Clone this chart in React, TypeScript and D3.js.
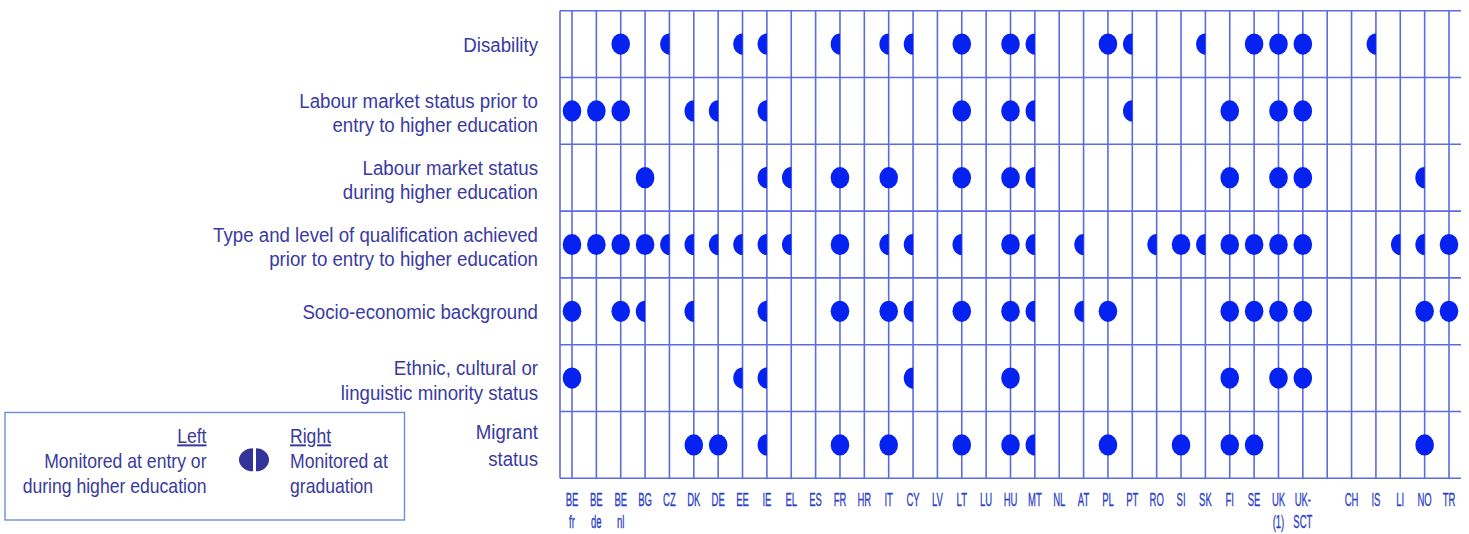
import React from "react";
import * as d3 from "d3";

// ---- data ----
const countries = [
  "BE-fr", "BE-de", "BE-nl", "BG", "CZ", "DK", "DE", "EE", "IE", "EL", "ES", "FR", "HR", "IT", "CY", "LV",
  "LT", "LU", "HU", "MT", "NL", "AT", "PL", "PT", "RO", "SI", "SK", "FI", "SE", "UK", "UK-SCT", "gap",
  "CH", "IS", "LI", "NO", "TR",
];
const countryLabels: string[][] = [
  ["BE", "fr"], ["BE", "de"], ["BE", "nl"], ["BG"], ["CZ"], ["DK"], ["DE"], ["EE"], ["IE"], ["EL"], ["ES"],
  ["FR"], ["HR"], ["IT"], ["CY"], ["LV"], ["LT"], ["LU"], ["HU"], ["MT"], ["NL"], ["AT"], ["PL"], ["PT"],
  ["RO"], ["SI"], ["SK"], ["FI"], ["SE"], ["UK", "(1)"], ["UK-", "SCT"], [""], ["CH"], ["IS"], ["LI"],
  ["NO"], ["TR"],
];
const indicators = [
  "Disability",
  "Labour market status prior to\nentry to higher education",
  "Labour market status\nduring higher education",
  "Type and level of qualification achieved\nprior to entry to higher education",
  "Socio-economic background",
  "Ethnic, cultural or\nlinguistic minority status",
  "Migrant\nstatus",
];

// F = monitored at entry/during and at graduation (full), L = at entry or during only (left half)
const disability = [
  ["BE-nl", "F"], ["CZ", "L"], ["EE", "L"], ["IE", "L"], ["FR", "L"], ["IT", "L"], ["CY", "L"], ["LT", "F"],
  ["HU", "F"], ["MT", "L"], ["PL", "F"], ["PT", "L"], ["SK", "L"], ["SE", "F"], ["UK", "F"], ["UK-SCT", "F"],
  ["IS", "L"],
];
const labourPrior = [
  ["BE-fr", "F"], ["BE-de", "F"], ["BE-nl", "F"], ["DK", "L"], ["DE", "L"], ["IE", "L"], ["LT", "F"],
  ["HU", "F"], ["MT", "L"], ["PT", "L"], ["FI", "F"], ["UK", "F"], ["UK-SCT", "F"],
];
const labourDuring = [
  ["BG", "F"], ["IE", "L"], ["EL", "L"], ["FR", "F"], ["IT", "F"], ["LT", "F"], ["HU", "F"], ["MT", "L"],
  ["FI", "F"], ["UK", "F"], ["UK-SCT", "F"], ["NO", "L"],
];
const qualification = [
  ["BE-fr", "F"], ["BE-de", "F"], ["BE-nl", "F"], ["BG", "F"], ["CZ", "L"], ["DK", "L"], ["DE", "L"],
  ["EE", "L"], ["IE", "L"], ["EL", "L"], ["FR", "F"], ["IT", "L"], ["CY", "L"], ["LT", "L"], ["HU", "F"],
  ["MT", "L"], ["AT", "L"], ["RO", "L"], ["SI", "F"], ["SK", "L"], ["FI", "F"], ["SE", "F"], ["UK", "F"],
  ["UK-SCT", "F"], ["LI", "L"], ["NO", "L"], ["TR", "F"],
];
const socioEconomic = [
  ["BE-fr", "F"], ["BE-nl", "F"], ["BG", "L"], ["DK", "L"], ["IE", "L"], ["FR", "F"], ["IT", "F"], ["CY", "L"],
  ["LT", "F"], ["HU", "F"], ["MT", "L"], ["AT", "L"], ["PL", "F"], ["FI", "F"], ["SE", "F"], ["UK", "F"],
  ["UK-SCT", "F"], ["NO", "F"], ["TR", "F"],
];
const minority = [
  ["BE-fr", "F"], ["EE", "L"], ["IE", "L"], ["CY", "L"], ["HU", "F"], ["FI", "F"], ["UK", "F"], ["UK-SCT", "F"],
];
const migrant = [
  ["DK", "F"], ["DE", "F"], ["IE", "L"], ["FR", "F"], ["IT", "F"], ["LT", "F"], ["HU", "F"], ["MT", "L"],
  ["PL", "F"], ["SI", "F"], ["FI", "F"], ["SE", "F"], ["NO", "F"],
];
const rowsData = [disability, labourPrior, labourDuring, qualification, socioEconomic, minority, migrant];

const legendLeft = ["Left", "Monitored at entry or", "during higher education"];
const legendRight = ["Right", "Monitored at", "graduation"];

// ---- styles ----
const W = 1469;
const H = 534;
const gridColor = "#5b6ce0";
const dotColor = "#0622f0";
const labelColor = "#3a3aa3";
const axisColor = "#2a40c8";
const FONT = "'Liberation Sans', Arial, sans-serif";

export default function App() {
  const x = d3.scalePoint<string>().domain(countries).range([572, 1449]);
  const y = d3.scaleBand<number>().domain(d3.range(indicators.length)).range([10.7, 478.3]);
  const gridLeft = 560;
  const gridRight = 1461;
  const rx = 9.3;
  const ry = 10.6;

  const halfPath = (cx: number, cy: number) => {
    const p = d3.path();
    p.moveTo(cx, cy - ry);
    const k = 0.5523;
    p.bezierCurveTo(cx - rx * k, cy - ry, cx - rx, cy - ry * k, cx - rx, cy);
    p.bezierCurveTo(cx - rx, cy + ry * k, cx - rx * k, cy + ry, cx, cy + ry);
    p.closePath();
    return p.toString();
  };

  const rowBoundaries = d3.range(indicators.length + 1).map((i) => (i < indicators.length ? y(i)! : y(indicators.length - 1)! + y.bandwidth()));

  return (
    <svg width={W} height={H} style={{ position: "absolute", left: 0, top: 0, background: "#fff" }}>
      {/* grid */}
      <g>
        <line x1={gridLeft} x2={gridLeft} y1={rowBoundaries[0]} y2={rowBoundaries[rowBoundaries.length - 1]} stroke={gridColor} strokeWidth={1.6} />
        {countries.map((c) => (
          <line key={c} x1={x(c)} x2={x(c)} y1={rowBoundaries[0]} y2={rowBoundaries[rowBoundaries.length - 1]} stroke={gridColor} strokeWidth={1.6} />
        ))}
        {rowBoundaries.map((yy, i) => (
          <line key={i} x1={gridLeft} x2={gridRight} y1={yy} y2={yy} stroke={gridColor} strokeWidth={1.6} />
        ))}
      </g>
      {/* marks */}
      <g>
        {rowsData.map((row, ri) => {
          const cy = y(ri)! + y.bandwidth() / 2;
          return row.map(([c, t]) => {
            const cx = x(c)!;
            return t === "F" ? (
              <ellipse key={`${ri}-${c}`} cx={cx} cy={cy} rx={rx} ry={ry} fill={dotColor} />
            ) : (
              <path key={`${ri}-${c}`} d={halfPath(cx, cy)} fill={dotColor} />
            );
          });
        })}
      </g>
      {/* row labels */}
      <g fill={labelColor} fontFamily={FONT} fontSize={21}>
        {indicators.map((lab, ri) => {
          const cy = y(ri)! + y.bandwidth() / 2;
          const lines = lab.split("\n");
          const offs = lines.length === 1 ? [8] : ri === 6 ? [-5.8, 21] : [-3, 21.5];
          return lines.map((ln, li) => (
            <text key={`${ri}-${li}`} transform={`translate(538,${cy + offs[li]}) scale(0.89,1)`} textAnchor="end">
              {ln}
            </text>
          ));
        })}
      </g>
      {/* x-axis labels */}
      <g fill={axisColor} stroke={axisColor} strokeWidth={0.35} fontFamily={FONT} fontSize={19}>
        {countries.map((c, i) =>
          countryLabels[i].map((ln, li) => (
            <text key={`${c}-${li}`} transform={`translate(${x(c)},${506 + li * 21.5}) scale(0.5,1)`} textAnchor="middle">
              {ln}
            </text>
          ))
        )}
      </g>
      {/* legend */}
      <g>
        <rect x={5} y={412.5} width={399.5} height={107.5} fill="#fff" stroke="#6b8fd2" strokeWidth={1.4} />
        <g fill="#3a3a9c" fontFamily={FONT} fontSize={20}>
          {legendLeft.map((ln, i) => (
            <text key={`l${i}`} transform={`translate(206.5,${443.3 + i * 25})  scale(0.88,1)`} textAnchor="end" textDecoration={i === 0 ? "underline" : undefined}>
              {ln}
            </text>
          ))}
          {legendRight.map((ln, i) => (
            <text key={`r${i}`} transform={`translate(290,${443.3 + i * 25})  scale(0.88,1)`} textAnchor="start" textDecoration={i === 0 ? "underline" : undefined}>
              {ln}
            </text>
          ))}
        </g>
        <g fill="#333399">
          <path d={`M253,448.3 A14,11.5 0 0 0 253,471.3 Z`} />
          <path d={`M256,448.3 A13,11.5 0 0 1 256,471.3 Z`} />
        </g>
      </g>
    </svg>
  );
}
